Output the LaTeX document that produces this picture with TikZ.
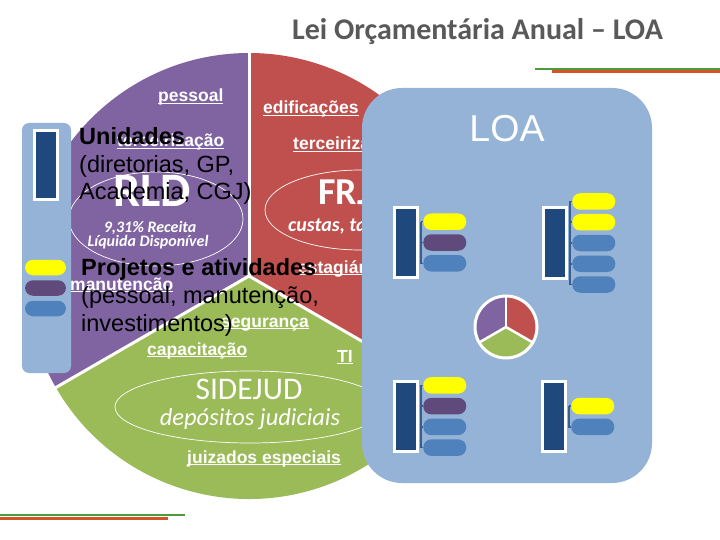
\documentclass[tikz,border=0pt]{standalone}
\usepackage{fontspec}
\setmainfont{Liberation Sans}
\newfontfamily\calfont{Carlito}
\usetikzlibrary{positioning}
\definecolor{rldpurple}{HTML}{8064A2}
\definecolor{frjred}{HTML}{C0504D}
\definecolor{sidgreen}{HTML}{9BBB59}
\definecolor{loablue}{HTML}{95B3D7}
\definecolor{unitblue}{HTML}{1F497D}
\definecolor{pillyellow}{HTML}{FFFF00}
\definecolor{pillpurple}{HTML}{604A7B}
\definecolor{pillblue}{HTML}{4F81BD}
\definecolor{titlegray}{HTML}{595959}
\definecolor{rulegreen}{HTML}{4E9A3F}
\definecolor{ruleorange}{HTML}{D35424}

\newsavebox\lnkbox
\newcommand\lnk[1]{\sbox\lnkbox{#1}\rlap{\usebox\lnkbox}\rule[-2pt]{\wd\lnkbox}{1.2pt}}

\tikzset{
  link/.style={text=white, font=\bfseries\fontsize{17.5}{20}\selectfont, inner sep=0pt, anchor=base west},
  blacktxt/.style={text=black, font=\fontsize{23.5}{28}\selectfont, inner sep=0pt, anchor=base west},
  blackhead/.style={blacktxt, font=\bfseries\fontsize{23.5}{28}\selectfont},
  fundtxt/.style={text=white, inner sep=0pt},
  sector/.style={white, line width=3pt},
  fundring/.style={draw=white, line width=0.7pt},
  unitbox/.style={fill=unitblue, draw=white, line width=3pt, minimum width=23pt, minimum height=70pt, inner sep=0pt},
  pill/.style={minimum width=43pt, minimum height=16.5pt, rounded corners=8pt, inner sep=0pt},
  bracket/.style={draw=unitblue!80!loablue, line width=1.5pt},
}

\begin{document}
\begin{tikzpicture}[x=1pt, y=1pt]
  \fill[white] (0,0) rectangle (720,-540);
  \useasboundingbox (0,0) rectangle (720,-540);

  % Title and rules
  \node[font=\calfont\bfseries\fontsize{30}{34}\selectfont, text=titlegray, anchor=base west, inner sep=0pt] (title) at (292,-40) {Lei Orçamentária Anual – LOA};
  \draw[rulegreen, line width=2pt] (535,-69) -- (720,-69);
  \draw[ruleorange, line width=3pt] (552,-72) -- (720,-72);
  \draw[rulegreen, line width=2pt] (0,-515) -- (185,-515);
  \draw[ruleorange, line width=3pt] (0,-518) -- (168,-518);

  % Big pie
  \coordinate (pc) at (249,-276);
  \fill[rldpurple] (pc) -- ++(90:223) arc[start angle=90, end angle=210, radius=223] -- cycle;
  \fill[frjred] (pc) -- ++(-30:223) arc[start angle=-30, end angle=90, radius=223] -- cycle;
  \fill[sidgreen] (pc) -- ++(210:223) arc[start angle=210, end angle=330, radius=223] -- cycle;
  \foreach \a in {90,210,330} {
    \draw[sector] (pc) -- ++(\a:224);
  }

  % Expense items
  \node[link] (pes) at (158,-102) {\lnk{pessoal}};
  \node[link] (edi) at (263,-114) {\lnk{edificações}};
  \node[link] (terl) at (117,-147) {\lnk{terceirização}};
  \node[link] (terr) at (293,-150) {\lnk{terceirizados}};
  \node[link] (est) at (298,-273) {\lnk{estagiários}};
  \node[link] (man) at (70,-290) {\lnk{manutenção}};
  \node[link] (seg) at (221,-327) {\lnk{segurança}};
  \node[link] (cap) at (147,-355) {\lnk{capacitação}};
  \node[link] (ti) at (337,-362) {\lnk{TI}};
  \node[link] (jui) at (187,-463) {\lnk{juizados especiais}};

  % Funds
  \draw[fundring] (156,-219) ellipse[x radius=87, y radius=47];
  \draw[fundring] (360,-210) ellipse[x radius=95, y radius=40];
  \draw[fundring] (250,-407) ellipse[x radius=135, y radius=36];
  \node[fundtxt, anchor=base west, font=\calfont\bfseries\fontsize{48}{50}\selectfont] (rld) at (113,-207) {RLD};
  \node[fundtxt, anchor=base, font=\calfont\bfseries\itshape\fontsize{16}{17}\selectfont] (rcl1) at (150,-233) {9,31\% Receita};
  \node[fundtxt, anchor=base, font=\calfont\bfseries\itshape\fontsize{16}{17}\selectfont] (rcl2) at (148,-247) {Líquida Disponível};
  \node[fundtxt, anchor=base west, font=\calfont\bfseries\fontsize{38}{40}\selectfont] (frj) at (318,-205) {FRJ};
  \node[fundtxt, anchor=base west, font=\calfont\bfseries\itshape\fontsize{20}{22}\selectfont] (cus) at (288,-232) {custas, taxas};
  \node[fundtxt, anchor=base, font=\calfont\fontsize{31.5}{33}\selectfont] (sid) at (249,-399) {SIDEJUD};
  \node[fundtxt, anchor=base, font=\calfont\itshape\fontsize{24.5}{26}\selectfont] (dep) at (250,-425) {depósitos judiciais};

  % Black legend text
  \node[blackhead] (unid) at (79,-145) {Unidades};
  \node[blacktxt] (unid2) at ([yshift=-27.5pt]unid.base west) {(diretorias, GP,};
  \node[blacktxt] (unid3) at ([yshift=-27.5pt]unid2.base west) {Academia, CGJ)};
  \node[blackhead] (proj) at (81,-275) {Projetos e atividades};
  \node[blacktxt] (proj2) at ([yshift=-28pt]proj.base west) {(pessoal, manutenção,};
  \node[blacktxt] (proj3) at ([yshift=-28pt]proj2.base west) {investimentos)};

  % Left legend card
  \node[fill=loablue, rounded corners=7pt, minimum width=49pt, minimum height=250pt, inner sep=0pt] (card) at (46.5,-248) {};
  \node[unitbox, minimum height=69pt] (cunit) at (46,-165) {};
  \foreach \c [count=\i] in {pillyellow,pillpurple,pillblue} {
    \node[pill, fill=\c, minimum width=41pt, minimum height=15.5pt] (cp\i) at (45.5,-267.5-20.5*\i+20.5) {};
  }

  % LOA box
  \node[fill=loablue, rounded corners=40pt, minimum width=290pt, minimum height=395pt, inner sep=0pt] (loa) at (507,-285.5) {};
  \node[text=white, anchor=base, inner sep=0pt, font=\fontsize{37.5}{40}\selectfont] (loatitle) at (507,-142) {LOA};

  % Units with their projects
  \foreach \g/\ux/\uy/\n/\cols in {ga/406/-242.5/3/{pillyellow,pillpurple,pillblue},
      gb/555/-243/5/{pillyellow,pillyellow,pillblue,pillblue,pillblue},
      gc/406/-416.5/4/{pillyellow,pillpurple,pillblue,pillblue},
      gd/554/-416.5/2/{pillyellow,pillblue}} {
    \node[unitbox] (\g) at (\ux,\uy) {};
    \coordinate (\g-b) at ([xshift=2pt]\g.east);
    \foreach \c [count=\i] in \cols {
      \pgfmathsetmacro{\py}{\uy+((\n+1)/2-\i)*20.75}
      \node[pill, fill=\c] (\g-\i) at (\ux+38.75,\py) {};
      \draw[bracket] (\g-b |- \g-1.west) |- (\g-\i.west);
    }
  }

  % Small pie
  \coordinate (sp) at (506,-327);
  \fill[rldpurple] (sp) -- ++(90:31) arc[start angle=90, end angle=210, radius=31] -- cycle;
  \fill[frjred] (sp) -- ++(-30:31) arc[start angle=-30, end angle=90, radius=31] -- cycle;
  \fill[sidgreen] (sp) -- ++(210:31) arc[start angle=210, end angle=330, radius=31] -- cycle;
  \foreach \a in {90,210,330} {
    \draw[white, line width=2.5pt] (sp) -- ++(\a:31);
  }
  \draw[white, line width=3pt] (sp) circle[radius=31];
\end{tikzpicture}
\end{document}
